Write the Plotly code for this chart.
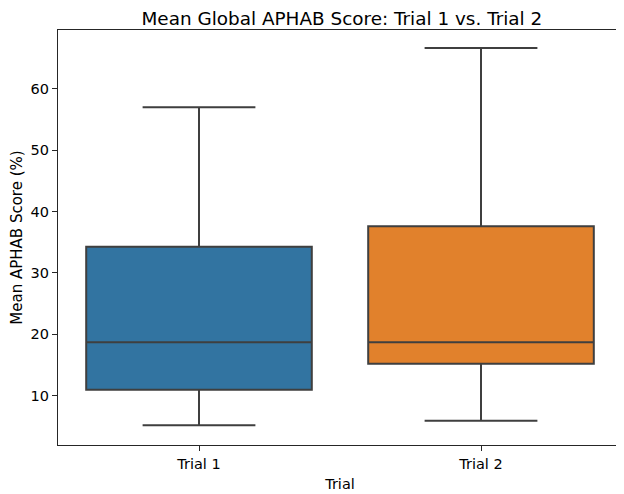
import plotly.graph_objects as go

categories = ["Trial 1", "Trial 2"]
q1_vals = [10.98, 15.22]
median_vals = [18.71, 18.71]
q3_vals = [34.26, 37.63]
lower_vals = [5.17, 5.92]
upper_vals = [57.0, 66.67]
colors = ["#3274a1", "#e1812c"]

fig = go.Figure()
for i, cat in enumerate(categories):
    fig.add_trace(go.Box(
        x=[cat],
        q1=[q1_vals[i]], median=[median_vals[i]], q3=[q3_vals[i]],
        lowerfence=[lower_vals[i]], upperfence=[upper_vals[i]],
        fillcolor=colors[i],
        line=dict(color="#3f3f3f", width=2),
        width=0.8,
        whiskerwidth=0.5,
        boxpoints=False,
        showlegend=False,
        hoverinfo="skip",
    ))

font_family = "DejaVu Sans"
fig.update_layout(
    width=616, height=486,
    margin=dict(l=50, r=2, t=22, b=49),
    paper_bgcolor="white", plot_bgcolor="white",
    font=dict(family=font_family, color="black", size=14.5),
    title=dict(text="Mean Global APHAB Score: Trial 1 vs. Trial 2",
               x=0.542, xanchor="center", y=0.979, yanchor="middle",
               font=dict(size=18.4, family=font_family, color="black")),
)
fig.update_xaxes(
    type="category", range=[-0.5, 1.5],
    showline=True, linecolor="#262626", linewidth=1.2, mirror=True,
    ticks="outside", ticklen=5, tickcolor="#262626", tickwidth=1.2,
    showgrid=False, zeroline=False,
    title=dict(text="Trial", font=dict(size=14.5), standoff=8),
    tickfont=dict(size=14.5),
)
fig.update_yaxes(
    range=[1.96, 69.6], tickvals=[10, 20, 30, 40, 50, 60],
    showline=True, linecolor="#262626", linewidth=1.2, mirror=True,
    ticks="outside", ticklen=5, tickcolor="#262626", tickwidth=1.2,
    showgrid=False, zeroline=False,
    title=dict(text="Mean APHAB Score (%)", font=dict(size=15), standoff=10),
    tickfont=dict(size=14.5),
)

fig.write_html("out.html")
